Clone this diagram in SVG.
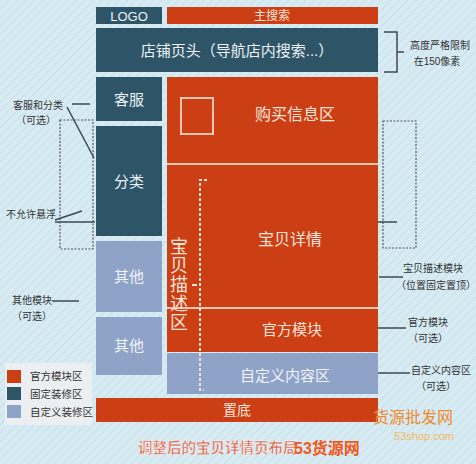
<svg xmlns="http://www.w3.org/2000/svg" width="476" height="464" viewBox="0 0 476 464">
<defs>
<pattern id="hatch" width="6" height="6" patternUnits="userSpaceOnUse" patternTransform="rotate(45)">
<rect width="6" height="6" fill="#d7ebf3"/>
<line x1="0" y1="0" x2="0" y2="6" stroke="#c9e0ea" stroke-width="2"/>
</pattern>
<style>
.red{fill:#cc3f14}
.dark{fill:#2d5567}
.blue{fill:#8ea3c7}
.t{font-family:"Liberation Sans","Noto Sans CJK SC",sans-serif;text-anchor:middle;dominant-baseline:central}
.in{fill:#f7e3d9}
.inb{fill:#eef2f8}
.note{font-size:10px;fill:#333}
.ln{stroke:#3c4a52;stroke-width:1.5;fill:none}
.dot{stroke:#556;stroke-width:1.2;stroke-dasharray:2 1.5;fill:none}
.sep{stroke:#f2c6b2;stroke-width:2}
</style>
</defs>
<rect width="476" height="464" fill="url(#hatch)"/>

<g id="logo"><rect class="dark" x="96" y="7" width="66" height="17"/><text class="t inb" x="129" y="16" font-size="13">LOGO</text></g>
<g id="search"><rect class="red" x="167" y="7" width="211" height="17"/><text class="t in" x="272" y="16" font-size="12">主搜索</text></g>
<g id="header"><rect class="dark" x="96" y="28" width="282" height="44"/><text class="t inb" x="237" y="50" font-size="15">店铺页头（导航店内搜索...）</text></g>
<g id="kefu"><rect class="dark" x="96" y="77" width="66" height="44"/><text class="t inb" x="129" y="99" font-size="15">客服</text></g>
<g id="fenlei"><rect class="dark" x="96" y="126" width="66" height="110"/><text class="t inb" x="129" y="181" font-size="15">分类</text></g>
<g id="other1"><rect class="blue" x="96" y="241" width="66" height="71"/><text class="t inb" x="129" y="276" font-size="15">其他</text></g>
<g id="other2"><rect class="blue" x="96" y="317" width="66" height="58"/><text class="t inb" x="129" y="345" font-size="15">其他</text></g>

<g id="redcol">
<rect class="red" x="167" y="77" width="211" height="275"/>
<line class="sep" x1="167" y1="164" x2="378" y2="164"/>
<line class="sep" x1="167" y1="308" x2="378" y2="308"/>
</g>
<g id="buyinfo"><rect x="181" y="98" width="32" height="36" fill="none" stroke="#f2c6b2" stroke-width="2"/><text class="t in" x="295" y="114" font-size="16">购买信息区</text></g>
<g id="detail"><text class="t in" x="290" y="239" font-size="16">宝贝详情</text></g>
<g id="official"><text class="t in" x="292" y="329" font-size="15">官方模块</text></g>
<g id="custom"><rect class="blue" x="167" y="353" width="211" height="41"/><text class="t inb" x="285" y="375" font-size="15">自定义内容区</text></g>
<g id="bottom"><rect class="red" x="96" y="398" width="282" height="24"/><text class="t in" x="237" y="410" font-size="14">置底</text></g>

<g id="descarea">
<path d="M207 180 H200 V390 H204" fill="none" stroke="#f7e3d9" stroke-width="2" stroke-dasharray="3 2"/>
<line x1="192" y1="285" x2="197" y2="285" stroke="#f7e3d9" stroke-width="2"/>
<g class="t in" font-size="18">
<text x="179" y="247">宝</text>
<text x="179" y="266">贝</text>
<text x="179" y="285">描</text>
<text x="179" y="304">述</text>
<text x="179" y="323">区</text>
</g>
</g>

<g id="connectors">
<path class="ln" d="M384 32 H397 V72 H384 M397 52 H404"/>
<rect class="dot" x="383" y="121" width="33" height="127"/>
<line class="ln" x1="378" y1="222" x2="397" y2="222"/>
<line class="ln" x1="379" y1="277" x2="403" y2="277"/>
<line class="ln" x1="378" y1="328" x2="406" y2="328"/>
<line class="ln" x1="378" y1="373" x2="410" y2="373"/>
<line class="ln" x1="72" y1="104" x2="90" y2="104"/>
<line class="ln" x1="67" y1="107" x2="94" y2="158"/>
<rect class="dot" x="60" y="120" width="33" height="129"/>
<line class="ln" x1="55" y1="220" x2="82" y2="211"/>
<line class="ln" x1="55" y1="222" x2="95" y2="222"/>
<line class="ln" x1="52" y1="301" x2="79" y2="301"/>
</g>

<g id="notes" class="t note">
<text x="440" y="45">高度严格限制</text>
<text x="437" y="61">在150像素</text>
<text x="433" y="268">宝贝描述模块</text>
<text x="436" y="285">（位置固定置顶）</text>
<text x="428" y="322">官方模块</text>
<text x="428" y="338">（可选）</text>
<text x="441" y="370">自定义内容区</text>
<text x="436" y="386">（可选）</text>
<text x="38" y="105">客服和分类</text>
<text x="36" y="120">（可选）</text>
<text x="31" y="214">不允许悬浮</text>
<text x="32" y="300">其他模块</text>
<text x="32" y="316">（可选）</text>
</g>

<g id="legend">
<rect x="5" y="363" width="87" height="62" fill="#eceff1"/>
<rect class="red" x="7" y="370" width="14" height="13"/>
<rect class="dark" x="7" y="387" width="14" height="13"/>
<rect class="blue" x="7" y="405" width="14" height="13"/>
<g font-family="Liberation Sans,Noto Sans CJK SC,sans-serif" font-size="10.5" fill="#333" dominant-baseline="central">
<text x="30" y="376">官方模块区</text>
<text x="30" y="394">固定装修区</text>
<text x="30" y="412">自定义装修区</text>
</g>
</g>

<g id="caption">
<text x="138" y="448" font-family="Liberation Sans,Noto Sans CJK SC,sans-serif" font-size="14.5" font-weight="bold" fill="#d9644a" dominant-baseline="central" stroke="#ffffff" stroke-width="0.4">调整后的宝贝详情页布局</text>
<text x="294" y="448" font-family="Liberation Sans,Noto Sans CJK SC,sans-serif" font-size="16" font-weight="bold" fill="#f2581c" dominant-baseline="central">53货源网</text>
<text x="413" y="417" class="t" font-size="16" fill="#f08a2a">货源批发网</text>
<text x="424" y="436" class="t" font-size="11" fill="#f3b860">53shop.com</text>
</g>
</svg>
